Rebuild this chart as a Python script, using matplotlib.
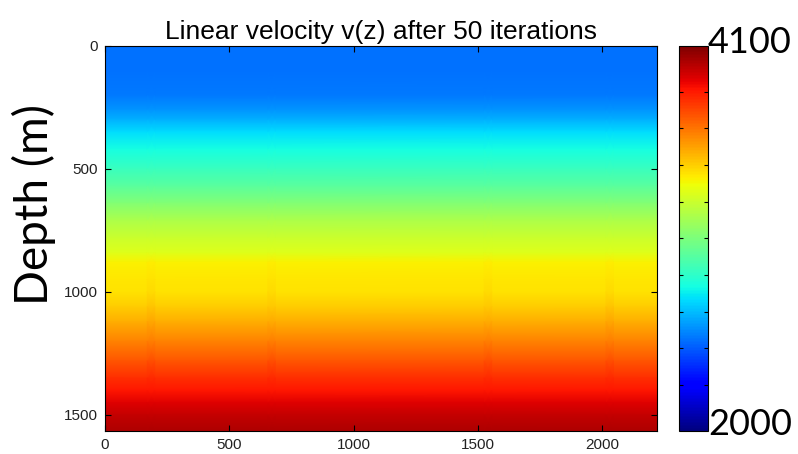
import numpy as np
import matplotlib.pyplot as plt

# velocity profile (depth in m, velocity in m/s)
depth_nodes = [0, 100, 200, 260, 300, 350, 420, 500, 570, 640, 710, 780, 840,
               880, 950, 1000, 1060, 1120, 1200, 1280, 1350, 1400, 1450, 1500, 1565]
vel_nodes = [2494, 2494, 2515, 2567, 2630, 2714, 2788, 2882, 2966, 3071, 3176, 3250, 3300,
             3372, 3395, 3410, 3455, 3520, 3617, 3722, 3806, 3858, 3921, 3974, 4016]

# faint vertical streaks in the lower part of the model
streak_x = [185, 670, 1540, 2030]
streak_dv = [14, 12, 12, 14]
streak_top = 860
streak_bot = 1360

x_max = 2220
z_max = 1565
vmin, vmax = 2000, 4100
cbar_ticks = [2250, 2450, 2650, 2850, 3050, 3250, 3450, 3650, 3850]

fig = plt.figure(figsize=(7.98, 4.54), dpi=100)
ax = fig.add_axes([0.1316, 0.0507, 0.6917, 0.848])
cax = fig.add_axes([0.8509, 0.0507, 0.0363, 0.848])

z = np.array(depth_nodes, dtype=float)
v = np.array(vel_nodes, dtype=float)
V = np.column_stack([v, v])
mesh = ax.pcolormesh([0, x_max], z, V, shading='gouraud', cmap='jet', vmin=vmin, vmax=vmax)

for sx, dv in zip(streak_x, streak_dv):
    inside = (z >= streak_top) & (z <= streak_bot)
    vs = v + np.where(inside, dv, 0)
    ax.pcolormesh([sx - 15, sx + 15], z, np.column_stack([vs, vs]),
                  shading='gouraud', cmap='jet', vmin=vmin, vmax=vmax)

ax.set_xlim(0, x_max)
ax.set_ylim(z_max, 0)
ax.set_xticks([0, 500, 1000, 1500, 2000])
ax.set_yticks([0, 500, 1000, 1500])
ax.tick_params(direction='in', top=True, right=True, length=4, labelsize=11,
               labelcolor='#222222', pad=5)
for s in ax.spines.values():
    s.set_linewidth(0.8)
ax.set_title('Linear velocity v(z) after 50 iterations', fontsize=19,
             family='Liberation Sans', pad=5)
for lab in ax.get_xticklabels() + ax.get_yticklabels():
    lab.set_family('Liberation Sans')

fig.text(0.042, 0.55, 'Depth (m)', rotation=90, ha='center', va='center',
         fontsize=33, family='Lato')

cb = fig.colorbar(mesh, cax=cax)
cb.set_ticks(cbar_ticks)
cb.set_ticklabels([])
cax.tick_params(direction='in', left=True, right=True, length=3, width=0.8)
cb.outline.set_linewidth(0.8)

fig.text(0.887, 0.907, '4100', ha='left', va='center', fontsize=26, family='Lato')
fig.text(0.887, 0.066, '2000', ha='left', va='center', fontsize=26, family='Lato')

fig.savefig('out.png', dpi=100)
